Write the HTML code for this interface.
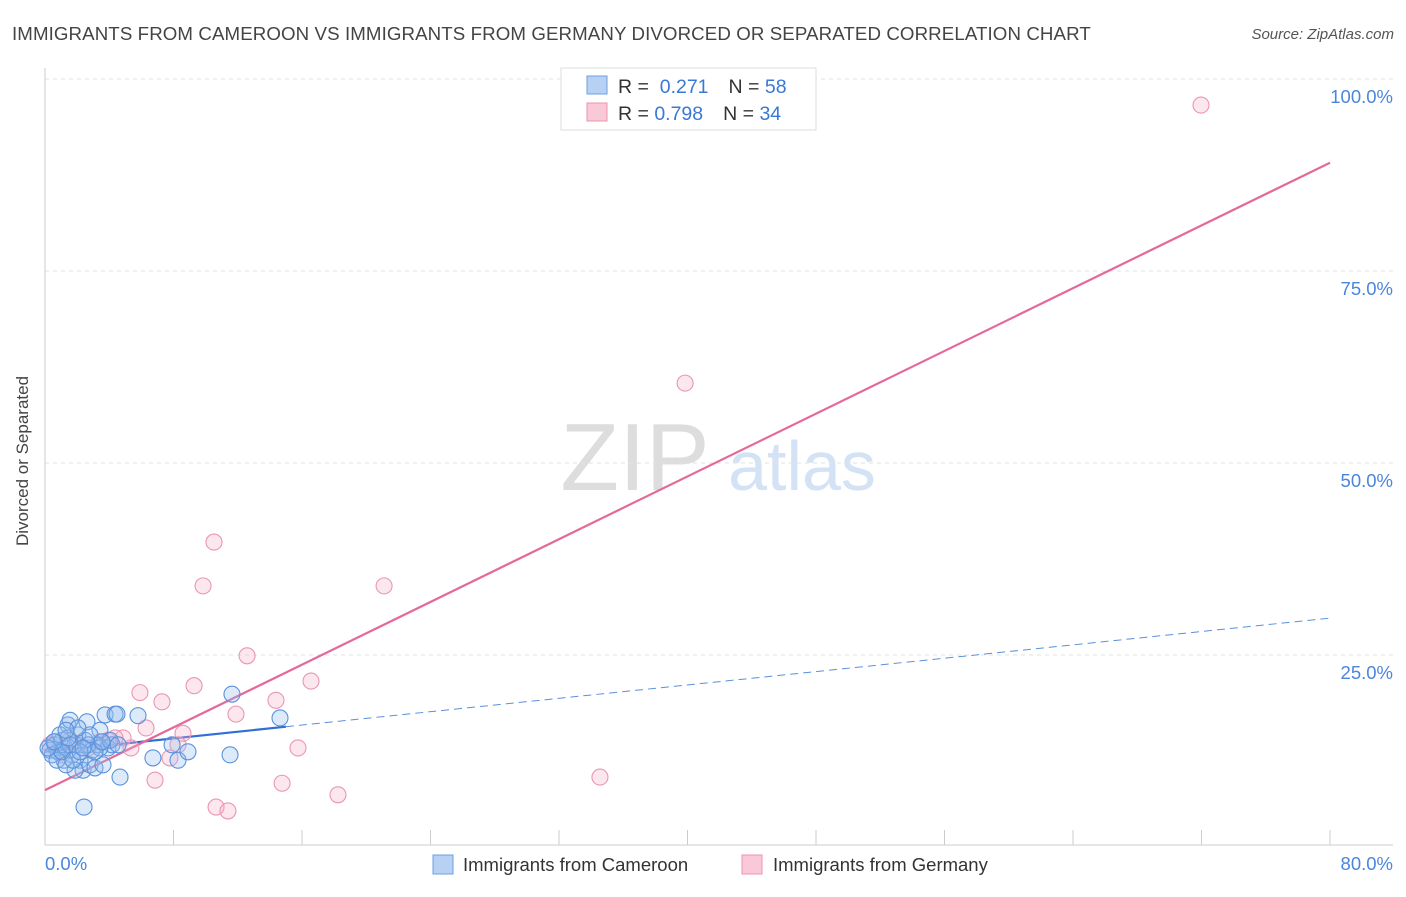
<!DOCTYPE html>
<html><head><meta charset="utf-8"><style>
body{margin:0;background:#fff;font-family:"Liberation Sans",sans-serif;}
svg text{font-family:"Liberation Sans",sans-serif;}
</style></head><body>
<svg id="chart" width="1406" height="892" xmlns="http://www.w3.org/2000/svg">
<text x="12" y="40" font-size="18.7" fill="#444" letter-spacing="0.1">IMMIGRANTS FROM CAMEROON VS IMMIGRANTS FROM GERMANY DIVORCED OR SEPARATED CORRELATION CHART</text>
<text x="1394" y="39" font-size="15" fill="#555" font-style="italic" text-anchor="end">Source: ZipAtlas.com</text>
<g>
<text x="635" y="490" font-size="96" fill="#ddd" font-family="Liberation Serif" text-anchor="middle">ZIP</text>
<text x="802" y="490" font-size="70" fill="#d3e2f5" text-anchor="middle">atlas</text>
</g>
<g id="grid"></g>
<g id="axes"></g>
<g id="trend"></g>
<g id="points"></g>
<text x="22" y="455" font-size="17" fill="#444" text-anchor="middle" transform="rotate(-90 28 455)">Divorced or Separated</text>
<g>
<rect x="561" y="68" width="255" height="62" fill="#fff" stroke="#ddd"/>
<rect x="587" y="76" width="20" height="18" fill="#b7d1f4" stroke="#6c9ee0"/>
<rect x="587" y="103" width="20" height="18" fill="#f9c9d7" stroke="#ec93b0"/>
<text x="618" y="93" font-size="19.5" fill="#333">R = <tspan fill="#3a78d4">&#160;0.271</tspan><tspan dx="20">N = </tspan><tspan fill="#3a78d4">58</tspan></text>
<text x="618" y="120" font-size="19.5" fill="#333">R = <tspan fill="#3a78d4">0.798</tspan><tspan dx="20">N = </tspan><tspan fill="#3a78d4">34</tspan></text>
</g>
<g>
<rect x="433" y="855" width="20" height="19" fill="#b7d1f4" stroke="#6c9ee0"/>
<text x="463" y="871" font-size="18.5" fill="#333">Immigrants from Cameroon</text>
<rect x="742" y="855" width="20" height="19" fill="#f9c9d7" stroke="#ec93b0"/>
<text x="773" y="871" font-size="18.5" fill="#333">Immigrants from Germany</text>
</g>
</svg>
<script>
const blueX=[0.31,0.62,0.81,1.06,1.25,1.43,1.56,1.68,1.87,2.05,2.18,2.37,2.49,2.61,2.80,2.93,3.11,3.30,3.42,3.61,3.74,3.92,4.17,4.36,4.48,4.67,5.79,6.72,7.91,8.28,8.90,11.52,11.64,14.63,2.43,0.93,1.18,1.87,3.42,4.05,0.44,0.75,1.31,1.56,2.68,3.11,1.06,1.43,1.74,2.18,0.19,0.56,2.80,3.55,4.55,2.05,1.31,2.37];
const blueY=[12.6,13.3,12.4,13.9,12.9,15.9,16.5,12.0,13.3,14.6,11.3,10.0,13.9,16.3,10.7,12.6,10.3,13.3,15.2,10.7,17.2,12.9,13.3,17.3,17.3,9.1,17.1,11.6,13.3,11.3,12.4,12.0,19.9,16.8,5.2,14.6,11.3,10.0,12.9,13.9,12.0,11.3,10.7,13.3,13.3,12.4,12.4,14.2,11.3,12.4,12.9,13.7,14.6,13.7,13.3,15.5,15.2,12.9];
const pinkX=[71.97,39.85,10.52,9.84,21.11,12.58,16.56,9.28,5.91,7.28,14.38,11.89,6.29,8.59,15.75,5.35,4.86,3.92,8.28,7.78,6.85,14.76,10.65,11.39,18.24,34.55,0.31,0.62,1.06,1.56,2.05,2.68,3.42,4.36];
const pinkY=[96.6,60.4,39.7,34.0,34.0,24.9,21.6,21.0,20.1,18.9,19.1,17.3,15.5,14.8,12.9,12.9,14.2,13.9,13.3,11.6,8.7,8.3,5.2,4.7,6.8,9.1,13.3,13.7,12.0,13.9,13.3,12.9,13.7,14.2];
const blueTrend=[12.4,29.8];
const pinkTrend=[7.4,89.1];
const yTicks=[25,50,75,100];
const xTickLabels=["0.0%","80.0%"];

const NS="http://www.w3.org/2000/svg";
const X0=45,X1=1330,Y0=847,Y100=79;
const sx=v=>X0+(X1-X0)*v/80;
const sy=v=>Y0-(Y0-Y100)*v/100;
function mk(tag,attrs,parent){const e=document.createElementNS(NS,tag);for(const k in attrs)e.setAttribute(k,attrs[k]);parent.appendChild(e);return e;}
const grid=document.getElementById('grid'),axes=document.getElementById('axes'),trend=document.getElementById('trend'),pts=document.getElementById('points');
yTicks.forEach(t=>{
 const l=mk('line',{x1:45,x2:1393,y1:sy(t),y2:sy(t),stroke:'#e2e2e2','stroke-dasharray':'4,4'},grid);
 
 
 const tx=mk('text',{x:1393,y:sy(t)+24,'font-size':18.5,fill:'#4a86dc','text-anchor':'end'},grid);
 tx.textContent=t.toFixed(1)+'%';
 
 
});
const ya=mk('line',{x1:45,x2:45,y1:68,y2:845,stroke:'#ccc'},axes);


const xa=mk('line',{x1:45,x2:1393,y1:845,y2:845,stroke:'#ccc'},axes);


for(let i=0;i<=10;i++){
 const t=mk('line',{x1:sx(i*8),x2:sx(i*8),y1:830,y2:845,stroke:'#ccc'},axes);
 
 
}
const xl0=mk('text',{x:45,y:870,'font-size':18.5,fill:'#4a86dc','text-anchor':'start'},axes);
xl0.textContent=xTickLabels[0];


const xl1=mk('text',{x:1393,y:870,'font-size':18.5,fill:'#4a86dc','text-anchor':'end'},axes);
xl1.textContent=xTickLabels[1];



function drawPts(xs,ys,fill,stroke,name){
 xs.forEach((x,i)=>{
  const c=mk('circle',{cx:sx(x),cy:sy(ys[i]),r:8,fill:fill,stroke:stroke,'stroke-width':1.1},pts);
  
  
 });
}
drawPts(pinkX,pinkY,'rgba(245,175,198,0.3)','#eb95b3','germany-point');
drawPts(blueX,blueY,'rgba(150,190,240,0.32)','#5a92dc','cameroon-point');

const bmid=blueTrend[0]+(blueTrend[1]-blueTrend[0])*15/80;
const bl=mk('line',{x1:sx(0),y1:sy(blueTrend[0]),x2:sx(15),y2:sy(bmid),stroke:'#2f6fd6','stroke-width':2.2},trend);


const bd=mk('line',{x1:sx(15),y1:sy(bmid),x2:sx(80),y2:sy(blueTrend[1]),stroke:'#5b8fdc','stroke-width':1,'stroke-dasharray':'8,5'},trend);


const pl=mk('line',{x1:sx(0),y1:sy(pinkTrend[0]),x2:sx(80),y2:sy(pinkTrend[1]),stroke:'#e4699a','stroke-width':2.2},trend);


</script>
</body></html>
